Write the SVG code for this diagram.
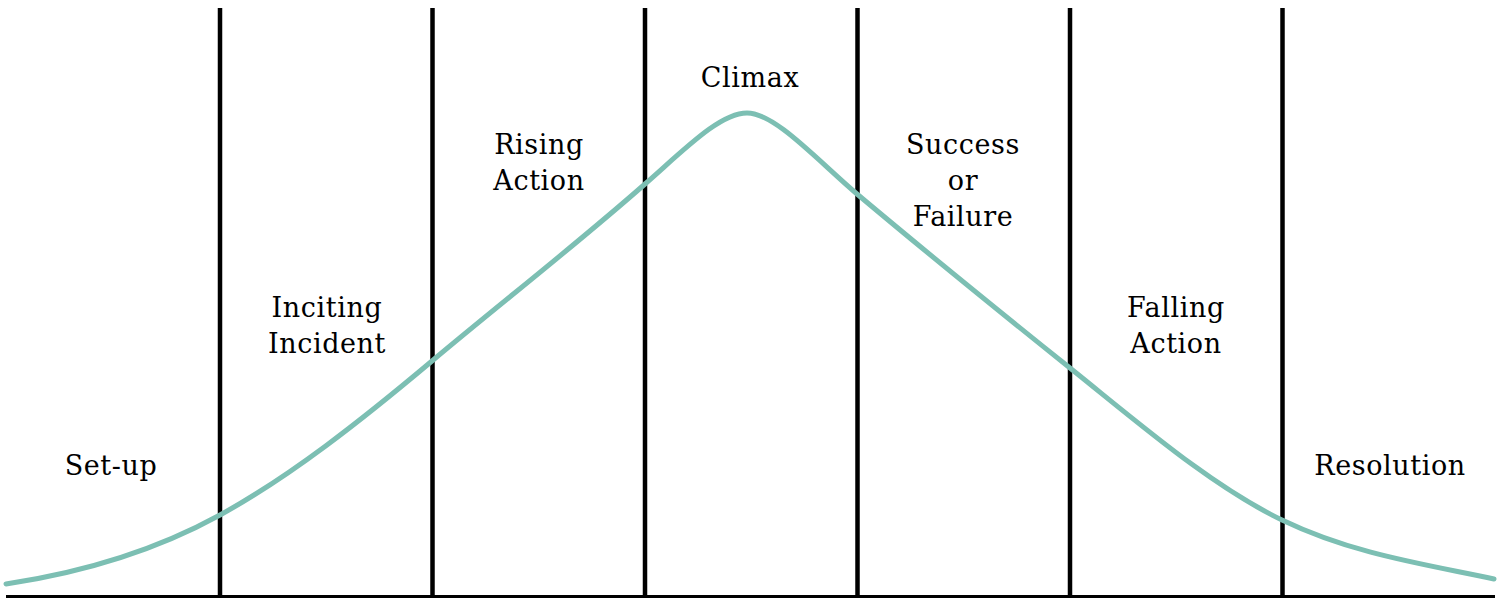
<svg xmlns="http://www.w3.org/2000/svg" width="1501" height="598" viewBox="0 0 1501 598">
<style>
.div{stroke:#000;stroke-width:4.5;fill:none}
.base{stroke:#000;stroke-width:3;fill:none}
.curve{stroke:#7cbfb3;stroke-width:5;fill:none;stroke-linecap:round}
text{font-family:"DejaVu Serif","Liberation Serif",serif;font-size:27px;fill:#000;text-anchor:middle;letter-spacing:0.6px}
</style>
<rect width="1501" height="598" fill="#fff"/>
<g id="dividers">
<line class="div" x1="220" y1="8" x2="220" y2="598"/>
<line class="div" x1="432.5" y1="8" x2="432.5" y2="598"/>
<line class="div" x1="645" y1="8" x2="645" y2="598"/>
<line class="div" x1="857.5" y1="8" x2="857.5" y2="598"/>
<line class="div" x1="1070" y1="8" x2="1070" y2="598"/>
<line class="div" x1="1282.5" y1="8" x2="1282.5" y2="598"/>
<line class="base" x1="6" y1="596.5" x2="1495" y2="596.5"/>
</g>
<g id="curve">
<path class="curve" d="M6 584 C77 573.4 149 554 220 515 C290.7 476.1 361.3 420.4 432 361 C503 301.4 574 246.5 645 184 C685 149 720 113 747 113 C775 113 817 160 857 194 C928 253.6 999 311.2 1070 368 C1140.7 424.6 1211.3 486 1282 520 C1352.7 554 1423.3 564 1494 579"/>
</g>
<g id="setup"><text x="111" y="475">Set-up</text></g>
<g id="inciting"><text x="327" y="317">Inciting</text><text x="327" y="353">Incident</text></g>
<g id="rising"><text x="539" y="154">Rising</text><text x="539" y="190">Action</text></g>
<g id="climax"><text x="750" y="87">Climax</text></g>
<g id="success"><text x="963" y="154">Success</text><text x="963" y="190">or</text><text x="963" y="226">Failure</text></g>
<g id="falling"><text x="1176" y="317">Falling</text><text x="1176" y="353">Action</text></g>
<g id="resolution"><text x="1390" y="475">Resolution</text></g>
</svg>
